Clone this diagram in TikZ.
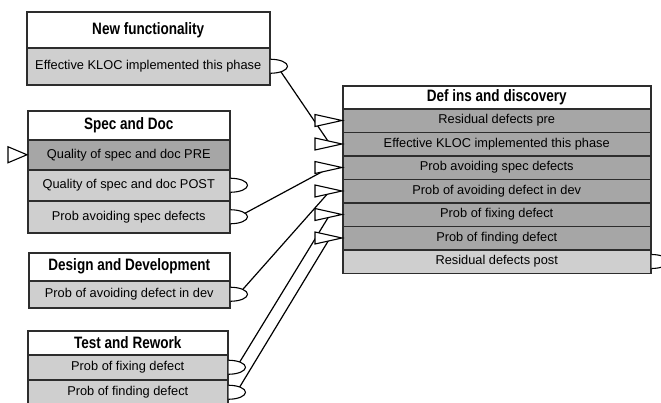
\documentclass[tikz,border=0pt]{standalone}
\usepackage{fontspec}
\setmainfont{Liberation Sans}
\definecolor{dk}{RGB}{166,166,166}
\definecolor{lt}{RGB}{207,207,207}
\definecolor{edge}{RGB}{45,45,45}
\tikzset{
  cell/.style={draw=edge, line width=1.5pt, inner sep=0pt, anchor=north west,
    font=\fontsize{12.8}{14}\selectfont},
  ttl/.style={cell, fill=white, font=\fontsize{16.5}{18}\selectfont\bfseries},
  inrow/.style={cell, fill=dk},
  outrow/.style={cell, fill=lt},
  port/.style={draw=black, line width=1.1pt, fill=white},
  wire/.style={draw=black, line width=1.2pt}
}
\newcommand{\condtxt}[1]{\scalebox{0.82}[1]{#1}}
\begin{document}
\begin{tikzpicture}[x=1pt,y=-1pt]
\useasboundingbox (0,0) rectangle (661,402);
% New functionality
\node[ttl, minimum width=243pt, minimum height=36pt] (nf0) at (26,11) {\condtxt{New functionality}};
\node[outrow, minimum width=243pt, minimum height=37pt] (nf1) at (26,47) {Effective KLOC implemented this phase};
% Spec and Doc
\node[ttl, minimum width=202pt, minimum height=29pt] (sd0) at (27,110) {\condtxt{Spec and Doc}};
\node[inrow, minimum width=202pt, minimum height=30pt] (sd1) at (27,139) {Quality of spec and doc PRE};
\node[outrow, minimum width=202pt, minimum height=31pt] (sd2) at (27,169) {Quality of spec and doc POST};
\node[outrow, minimum width=202pt, minimum height=32pt] (sd3) at (27,200) {Prob avoiding spec defects};
% Design and Development
\node[ttl, minimum width=201pt, minimum height=28pt] (dd0) at (28,252) {\condtxt{Design and Development}};
\node[outrow, minimum width=201pt, minimum height=27pt] (dd1) at (28,280) {Prob of avoiding defect in dev};
% Test and Rework
\node[ttl, minimum width=200pt, minimum height=24pt] (tr0) at (27,330) {\condtxt{Test and Rework}};
\node[outrow, minimum width=200pt, minimum height=25pt] (tr1) at (27,354) {Prob of fixing defect};
\node[outrow, minimum width=200pt, minimum height=25pt] (tr2) at (27,379) {Prob of finding defect};
% Def ins and discovery
\node[ttl, minimum width=308pt, minimum height=23pt] (df0) at (342,85) {\condtxt{Def ins and discovery}};
\node[inrow, minimum width=308pt, minimum height=23.5pt] (df1) at (342,108) {Residual defects pre};
\node[inrow, minimum width=308pt, minimum height=23.5pt] (df2) at (342,131.5) {Effective KLOC implemented this phase};
\node[inrow, minimum width=308pt, minimum height=23.5pt] (df3) at (342,155) {Prob avoiding spec defects};
\node[inrow, minimum width=308pt, minimum height=23.5pt] (df4) at (342,178.5) {Prob of avoiding defect in dev};
\node[inrow, minimum width=308pt, minimum height=23.5pt] (df5) at (342,202) {Prob of fixing defect};
\node[inrow, minimum width=308pt, minimum height=23.5pt] (df6) at (342,225.5) {Prob of finding defect};
\node[outrow, minimum width=308pt, minimum height=23.5pt] (df7) at (342,249) {Residual defects post};
% port anchor coordinates
\coordinate (o-nf) at ([xshift=8pt,yshift=-2pt]nf1.east);
\coordinate (o-sd) at ([xshift=8pt]sd3.east);
\coordinate (o-dd) at ([xshift=8pt]dd1.east);
\coordinate (o-tr1) at ([xshift=8pt]tr1.east);
\coordinate (o-tr2) at ([xshift=8pt]tr2.east);
\coordinate (i-df2) at ([xshift=-12pt]df2.west);
\coordinate (i-df3) at ([xshift=-12pt]df3.west);
\coordinate (i-df4) at ([xshift=-12pt]df4.west);
\coordinate (i-df5) at ([xshift=-12pt]df5.west);
\coordinate (i-df6) at ([xshift=-12pt]df6.west);
% connectors
\draw[wire] (o-nf) -- (i-df2);
\draw[wire] (o-sd) -- (i-df3);
\draw[wire] (o-dd) -- (i-df4);
\draw[wire] (o-tr1) -- (i-df5);
\draw[wire] (o-tr2) -- (i-df6);
% output ports (half ellipses)
\foreach \r in {nf1,sd2,sd3,dd1,tr1,tr2,df7}{
  \draw[port] ([yshift=7pt]\r.east) arc[start angle=90, end angle=-90, x radius=17pt, y radius=7pt];
}
% input ports (triangles)
\foreach \r in {df1,df2,df3,df4,df5,df6}{
  \draw[port] (\r.west) -- ++(-27pt,6pt) -- ++(0pt,-12pt) -- cycle;
}
\draw[port] (sd1.west) -- ++(-19pt,8pt) -- ++(0pt,-16pt) -- cycle;
\end{tikzpicture}
\end{document}
